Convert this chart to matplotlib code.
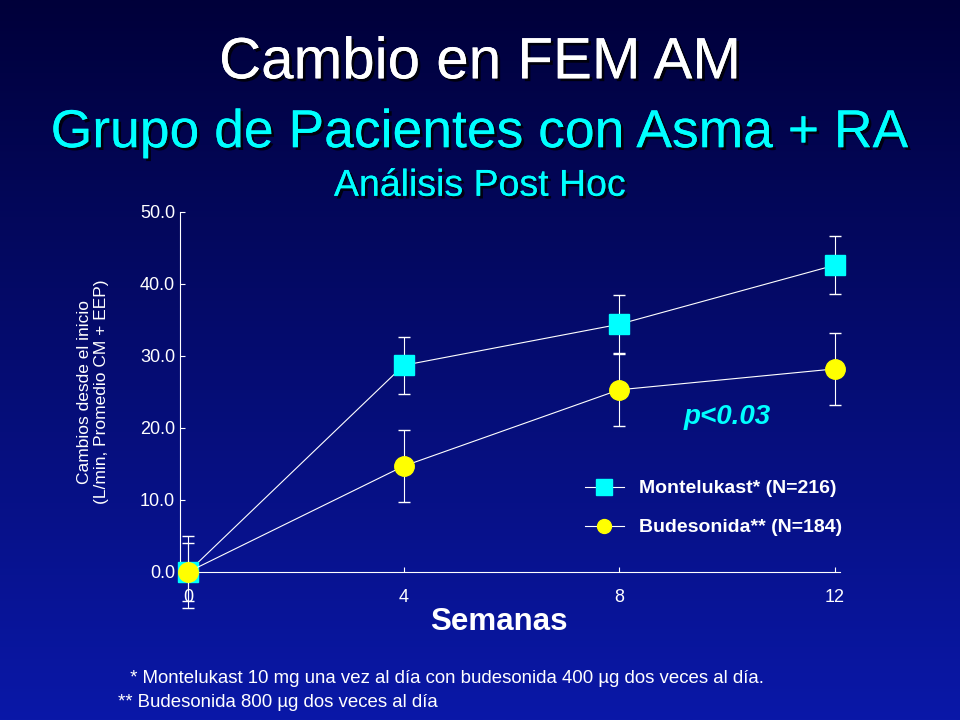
import matplotlib
matplotlib.use("Agg")
import matplotlib.pyplot as plt
import matplotlib.patheffects as pe
import numpy as np
from matplotlib.colors import LinearSegmentedColormap

weeks = [0, 4, 8, 12]
monte = [0.0, 28.7, 34.4, 42.6]
monte_err = [5.0, 4.0, 4.0, 4.0]
bude = [0.0, 14.7, 25.3, 28.2]
bude_err = [4.0, 5.0, 5.0, 5.0]
yticks = [0, 10, 20, 30, 40, 50]

fig = plt.figure(figsize=(9.6, 7.2), dpi=100)
bg = fig.add_axes([0, 0, 1, 1])
grad = np.linspace(0, 1, 256).reshape(-1, 1)
cm = LinearSegmentedColormap.from_list("g", ["#00003a", "#0a18a8"])
bg.imshow(grad, aspect="auto", cmap=cm, extent=[0, 1, 0, 1], origin="upper")
bg.axis("off")

sh = [pe.withSimplePatchShadow(offset=(2, -2), shadow_rgbFace="black", alpha=0.8), pe.Normal()]
F = "Liberation Sans"
fig.text(0.5, 0.912, "Cambio en FEM AM", color="white", fontsize=42, ha="center", va="center", family=F, path_effects=sh)
fig.text(0.5, 0.815, "Grupo de Pacientes con Asma + RA", color="#00ffff", fontsize=38.5, ha="center", va="center", family=F, path_effects=sh)
fig.text(0.5, 0.742, "Análisis Post Hoc", color="#00ffff", fontsize=27, ha="center", va="center", family=F, path_effects=sh)

ax = fig.add_axes([0.1875, 0.2056, 0.6875, 0.5])
ax.set_facecolor("none")
ax.errorbar(weeks, monte, yerr=monte_err, color="white", lw=0.8, capsize=4, elinewidth=0.8,
            marker="s", ms=15, mfc="#00ffff", mec="#00ffff", zorder=3, clip_on=False)
ax.errorbar(weeks, bude, yerr=bude_err, color="white", lw=0.8, capsize=4, elinewidth=0.8,
            marker="o", ms=14, mfc="#ffff00", mec="#ffff00", zorder=4, clip_on=False)
ax.plot([], [], color="white", lw=0.8, marker="s", ms=11, mfc="#00ffff", mec="#00ffff", label="Montelukast* (N=216)")
ax.plot([], [], color="white", lw=0.8, marker="o", ms=10, mfc="#ffff00", mec="#ffff00", label="Budesonida** (N=184)")
ax.set_xlim(-0.15, 12.1)
ax.set_ylim(0, 50)
ax.set_xticks(weeks)
ax.set_yticks(yticks)
ax.set_yticklabels([f"{v:.1f}" for v in yticks])
for s in ["top", "right"]:
    ax.spines[s].set_visible(False)
for s in ["left", "bottom"]:
    ax.spines[s].set_color("white")
ax.tick_params(colors="white", labelsize=13, direction="in")
ax.tick_params(axis="x", pad=12)
for t in ax.get_xticklabels() + ax.get_yticklabels():
    t.set_family(F)
ax.set_ylabel("Cambios desde el inicio\n(L/min, Promedio CM + EEP)", color="white", fontsize=12.5, family=F, labelpad=22)
ax.text(9.2, 20.5, "p<0.03", color="#00ffff", fontsize=20, fontweight="bold", style="italic", family=F)
leg = ax.legend(loc="lower right", bbox_to_anchor=(1.03, 0.05), frameon=False, labelspacing=1.1,
                prop={"family": F, "size": 14, "weight": "bold"})
for t in leg.get_texts():
    t.set_color("white")
fig.text(0.52, 0.125, "Semanas", color="white", fontsize=22.5, fontweight="bold", ha="center", family=F)
fig.text(0.13, 0.052, " * Montelukast 10 mg una vez al día con budesonida 400 \u00b5g dos veces al día.",
         color="white", fontsize=13.4, family=F)
fig.text(0.123, 0.018, "** Budesonida 800 \u00b5g dos veces al día", color="white", fontsize=13.4, family=F)
fig.savefig("out.png", dpi=100)
